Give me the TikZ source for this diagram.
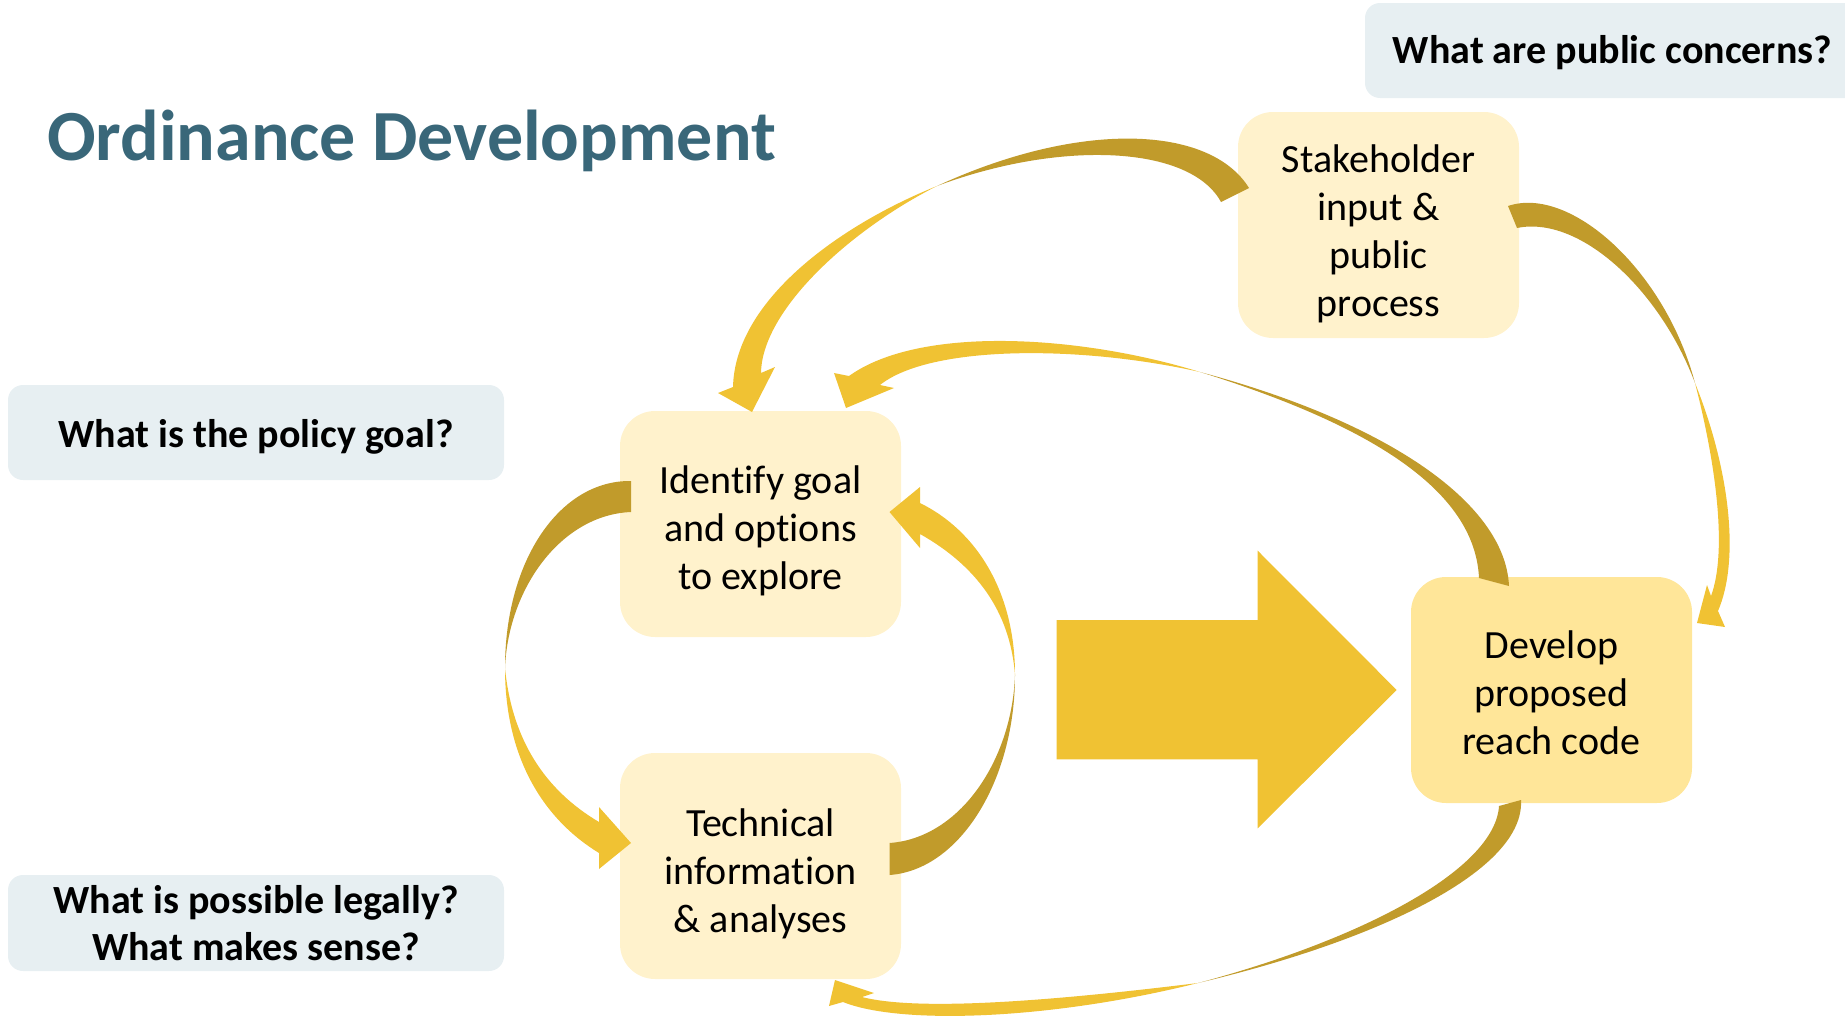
\documentclass[tikz,border=0pt]{standalone}
\usepackage{fontspec}
\setmainfont{Carlito}[Ligatures=NoCommon]
\definecolor{titleteal}{HTML}{396779}
\definecolor{qfill}{HTML}{E7EFF2}
\definecolor{cream}{HTML}{FFF2CC}
\definecolor{cream2}{HTML}{FFE699}
\definecolor{lt}{HTML}{F0C233}
\definecolor{dk}{HTML}{C19B2B}
\begin{document}
\begin{tikzpicture}[x=1pt,y=-1pt,
  qbox/.style={fill=qfill,rounded corners=15pt,inner sep=0pt},
  ybox/.style={fill=cream,rounded corners=35pt,inner sep=0pt,minimum width=281pt,minimum height=226pt},
  qtext/.style={inner sep=0pt,font=\bfseries\fontsize{40}{47}\selectfont},
  btext/.style={inner sep=0pt,align=center,font=\fontsize{40}{48}\selectfont},
  darkpart/.style={fill=dk},
  lightpart/.style={fill=lt}]
\useasboundingbox (0,0) rectangle (1845,1017);
\clip (0,0) rectangle (1845,1017);

% title
\node[anchor=base west,inner sep=0pt,text=titleteal,font=\bfseries\fontsize{72}{86}\selectfont] (title) at (47,160) {Ordinance Development};

% question boxes
\node[qbox,minimum width=510pt,minimum height=95pt] (qpub) at (1620,50.5) {};
\node[qtext,anchor=base] (qpubt) at (1612.5,63) {What are public concerns?};
\node[qbox,minimum width=496pt,minimum height=95pt] (qgoal) at (256,432.5) {};
\node[qtext,anchor=base] (qgoalt) at (256,447) {What is the policy goal?};
\node[qbox,minimum width=496pt,minimum height=96pt] (qlegal) at (256,923) {};
\node[qtext,align=center] (qlegalt) at (256,922.7) {What is possible legally?\\What makes sense?};

% process boxes
\node[ybox] (stk) at (1378.5,225) {};
\node[ybox] (idf) at (760.5,524) {};
\node[ybox] (tec) at (760.5,866) {};
\node[ybox,fill=cream2] (dev) at (1551.5,690) {};

% big arrow
\fill[lt] (1056.7,620) -- (1257.7,620) -- (1257.7,550.7) -- (1396.7,690) -- (1257.7,828.3) -- (1257.7,759.3) -- (1056.7,759.3) -- cycle;

% A: stakeholder -> identify
\coordinate (tA) at (937,186);
\fill[darkpart] (1249,188) .. controls (1210,125) and (1080,120) .. (tA)
  .. controls (1060,140) and (1190,145) .. (1221,202) -- cycle;
\fill[lightpart] (tA) .. controls (840,225) and (735,300) .. (733,387)
  -- (718,393) -- (752,412) -- (775,367) -- (761,373)
  .. controls (762,310) and (850,230) .. (tA) -- cycle;

% B: develop -> identify
\coordinate (tB) at (1200,372);
\fill[darkpart] (1509,586) .. controls (1505,500) and (1380,420) .. (tB)
  .. controls (1370,425) and (1475,490) .. (1479,578) -- cycle;
\fill[lightpart] (tB) .. controls (1080,335) and (920,325) .. (849,376)
  -- (834,373) -- (846,408) -- (894,388) -- (880,385)
  .. controls (930,345) and (1080,345) .. (tB) -- cycle;

% C: identify -> technical (left loop)
\coordinate (tC) at (505,668);
\fill[darkpart] (631,481) .. controls (560,480) and (505,560) .. (tC)
  .. controls (508,590) and (560,515) .. (631,512) -- cycle;
\fill[lightpart] (tC) .. controls (505,760) and (545,820) .. (599,853)
  -- (599,869) -- (631,843) -- (599,807) -- (599,822)
  .. controls (545,790) and (512,740) .. (tC) -- cycle;

% D: technical -> identify (right loop)
\coordinate (tD) at (1015,675);
\fill[darkpart] (889.5,875) .. controls (960,870) and (1015,780) .. (tD)
  .. controls (1012,760) and (960,838) .. (889.5,843) -- cycle;
\fill[lightpart] (tD) .. controls (1015,590) and (975,530) .. (920,503)
  -- (920,487) -- (889.5,512) -- (920,548) -- (920,534)
  .. controls (975,565) and (1010,610) .. (tD) -- cycle;

% E: stakeholder -> develop
\coordinate (tE) at (1695,383);
\fill[darkpart] (1508,206) .. controls (1570,185) and (1665,270) .. (tE)
  .. controls (1660,290) and (1580,215) .. (1517,228) -- cycle;
\fill[lightpart] (tE) .. controls (1730,470) and (1740,560) .. (1718,611)
  -- (1725,627) -- (1697,623) -- (1707,585) -- (1711,596)
  .. controls (1728,550) and (1715,460) .. (tE) -- cycle;

% F: develop -> technical
\coordinate (tF) at (1198,983);
\fill[darkpart] (1521,800) .. controls (1525,870) and (1380,940) .. (tF)
  .. controls (1360,940) and (1495,870) .. (1499,806) -- cycle;
\fill[lightpart] (tF) .. controls (1050,1020) and (900,1025) .. (843,1002)
  -- (829,1006) -- (835,980) -- (874,993) -- (862,997)
  .. controls (920,1012) and (1060,1000) .. (tF) -- cycle;

% box texts
\node[btext] (stkt) at (1378.5,233.5) {Stakeholder\\input \&\\public\\process};
\node[btext] (idft) at (760.5,531) {Identify goal\\and options\\to explore};
\node[btext] (tect) at (760.5,873.7) {Technical\\information\\\& analyses};
\node[btext] (devt) at (1551.5,692.7) {Develop\\proposed\\reach code};
\end{tikzpicture}
\end{document}
